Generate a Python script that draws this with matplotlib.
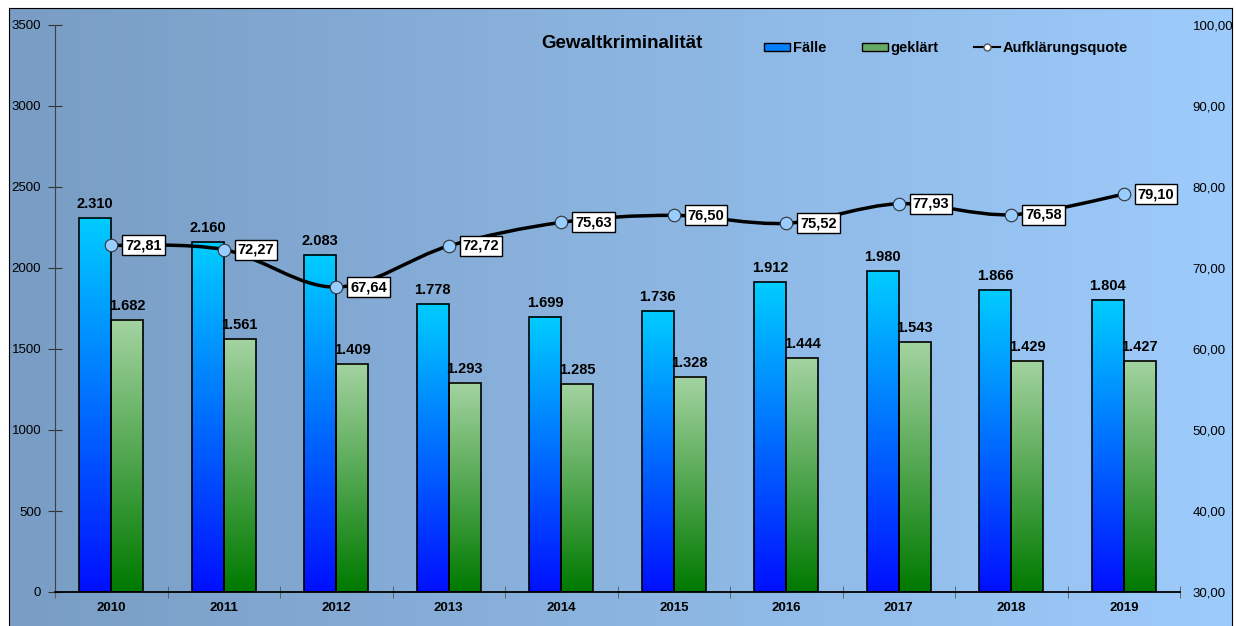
import numpy as np
import matplotlib.pyplot as plt
from matplotlib.colors import LinearSegmentedColormap
from matplotlib.lines import Line2D
from matplotlib.patches import Patch, PathPatch
from matplotlib.path import Path
from matplotlib.ticker import FuncFormatter

plt.rcParams['font.family'] = ['Liberation Sans', 'DejaVu Sans']

# Daten
jahre = ['2010', '2011', '2012', '2013', '2014', '2015', '2016', '2017', '2018', '2019']
faelle = [2310, 2160, 2083, 1778, 1699, 1736, 1912, 1980, 1866, 1804]
geklaert = [1682, 1561, 1409, 1293, 1285, 1328, 1444, 1543, 1429, 1427]
quote = [72.81, 72.27, 67.64, 72.72, 75.63, 76.50, 75.52, 77.93, 76.58, 79.10]

W, H = 1236, 626
fig = plt.figure(figsize=(W / 100, H / 100), dpi=100, facecolor='white')

# Hintergrund mit Verlauf
bg = fig.add_axes([9 / W, 0, 1223 / W, 618 / H])
bg_cmap = LinearSegmentedColormap.from_list('bg', ['#799dc4', '#9dcbfb'])
bg.imshow(np.linspace(0, 1, 256).reshape(1, -1), aspect='auto', cmap=bg_cmap, extent=(0, 1, 0, 1))
bg.set_xticks([])
bg.set_yticks([])
bg.spines['bottom'].set_visible(False)

ax = fig.add_axes([55 / W, 1 - 592 / H, (1180 - 55) / W, (592 - 25) / H])
ax.patch.set_visible(False)

x = np.arange(len(jahre))
w = 0.284
b1 = ax.bar(x - w / 2, faelle, w, facecolor='none', edgecolor='black', lw=1.2, zorder=3)
b2 = ax.bar(x + w / 2, geklaert, w, facecolor='none', edgecolor='black', lw=1.2, zorder=3)

cm_faelle = LinearSegmentedColormap.from_list('f', ['#0010ff', '#00ccff'])
cm_gekl = LinearSegmentedColormap.from_list('g', ['#007a00', '#a3d3a0'])


def gradient_fill(bars, cmap):
    for r in bars:
        x0, h = r.get_x(), r.get_height()
        ax.imshow(np.linspace(1, 0, 100).reshape(-1, 1), cmap=cmap, aspect='auto',
                  extent=(x0, x0 + r.get_width(), 0, h), zorder=2)


gradient_fill(b1, cm_faelle)
gradient_fill(b2, cm_gekl)


def de_int(v):
    return f"{v:,}".replace(",", ".")


for r, v in zip(b1, faelle):
    ax.annotate(de_int(v), (r.get_x() + r.get_width() / 2, v), xytext=(0, 5), textcoords='offset points',
                ha='center', va='bottom', fontsize=10.5, fontweight='bold')
for r, v in zip(b2, geklaert):
    ax.annotate(de_int(v), (r.get_x() + r.get_width() / 2, v), xytext=(0, 5), textcoords='offset points',
                ha='center', va='bottom', fontsize=10.5, fontweight='bold')

ax.set_xlim(-0.5, len(jahre) - 0.5)
ax.set_ylim(0, 3500)
ax.set_yticks(np.arange(0, 3501, 500))
ax.set_xticks(x)
ax.set_xticklabels(jahre, fontweight='bold')
ax.set_xticks(np.arange(-0.5, len(jahre), 1), minor=True)
ax.tick_params(axis='x', which='major', length=0, pad=7, labelsize=9.5)
ax.tick_params(axis='x', which='minor', direction='inout', length=8, color='#555555')
ax.tick_params(axis='y', direction='inout', length=10, color='#333333', labelsize=9.5, pad=5)
ax.spines['top'].set_visible(False)
ax.spines['right'].set_visible(False)
ax.spines['left'].set_color('#404040')
ax.spines['bottom'].set_linewidth(1.3)

# Aufklärungsquote
ax2 = ax.twinx()
ax2.set_ylim(30, 100)
ax2.set_yticks(np.arange(30, 101, 10))
ax2.yaxis.set_major_formatter(FuncFormatter(lambda v, p: f"{v:.2f}".replace(".", ",")))
ax2.tick_params(axis='y', length=0, pad=9, labelsize=9.5)
for s in ax2.spines.values():
    s.set_visible(False)

# geglättete Linie (Bezier wie Excel)
pts = np.column_stack([x, quote]).astype(float)
n = len(pts)
verts = [pts[0]]
codes = [Path.MOVETO]
for i in range(n - 1):
    p0 = pts[max(i - 1, 0)]
    p1 = pts[i]
    p2 = pts[i + 1]
    p3 = pts[min(i + 2, n - 1)]
    verts += [p1 + (p2 - p0) / 6, p2 - (p3 - p1) / 6, p2]
    codes += [Path.CURVE4] * 3
ax2.add_patch(PathPatch(Path(verts, codes), fc='none', ec='black', lw=2.5, zorder=3))
ax2.plot(x, quote, ls='none', marker='o', ms=9, mfc='#99ccff', mec='#333333', mew=0.8, zorder=4)

for xi, q in zip(x, quote):
    ax2.annotate(f"{q:.2f}".replace(".", ","), (xi, q), xytext=(10, 0), textcoords='offset points',
                 ha='left', va='center', fontsize=10.5, fontweight='bold', zorder=5,
                 bbox=dict(boxstyle='square,pad=0.2', fc='white', ec='black', lw=1))

fig.text(622 / W, 1 - 44 / H, 'Gewaltkriminalität', ha='center', va='center', fontsize=13.5, fontweight='bold')

handles = [Patch(facecolor='#0080ff', edgecolor='black'),
           Patch(facecolor='#66aa66', edgecolor='black'),
           Line2D([0], [0], color='black', lw=1.5, marker='o', ms=5, mfc='white', mec='#555555')]
fig.legend(handles, ['Fälle', 'geklärt', 'Aufklärungsquote'], loc='center left',
           bbox_to_anchor=(764 / W, 1 - 48 / H), ncol=3, frameon=False,
           prop={'weight': 'bold', 'size': 10.5}, handlelength=1.8, handleheight=0.5,
           handletextpad=0.2, columnspacing=2.4, borderpad=0, borderaxespad=0)

fig.savefig('out.png', dpi=100, facecolor='white')
